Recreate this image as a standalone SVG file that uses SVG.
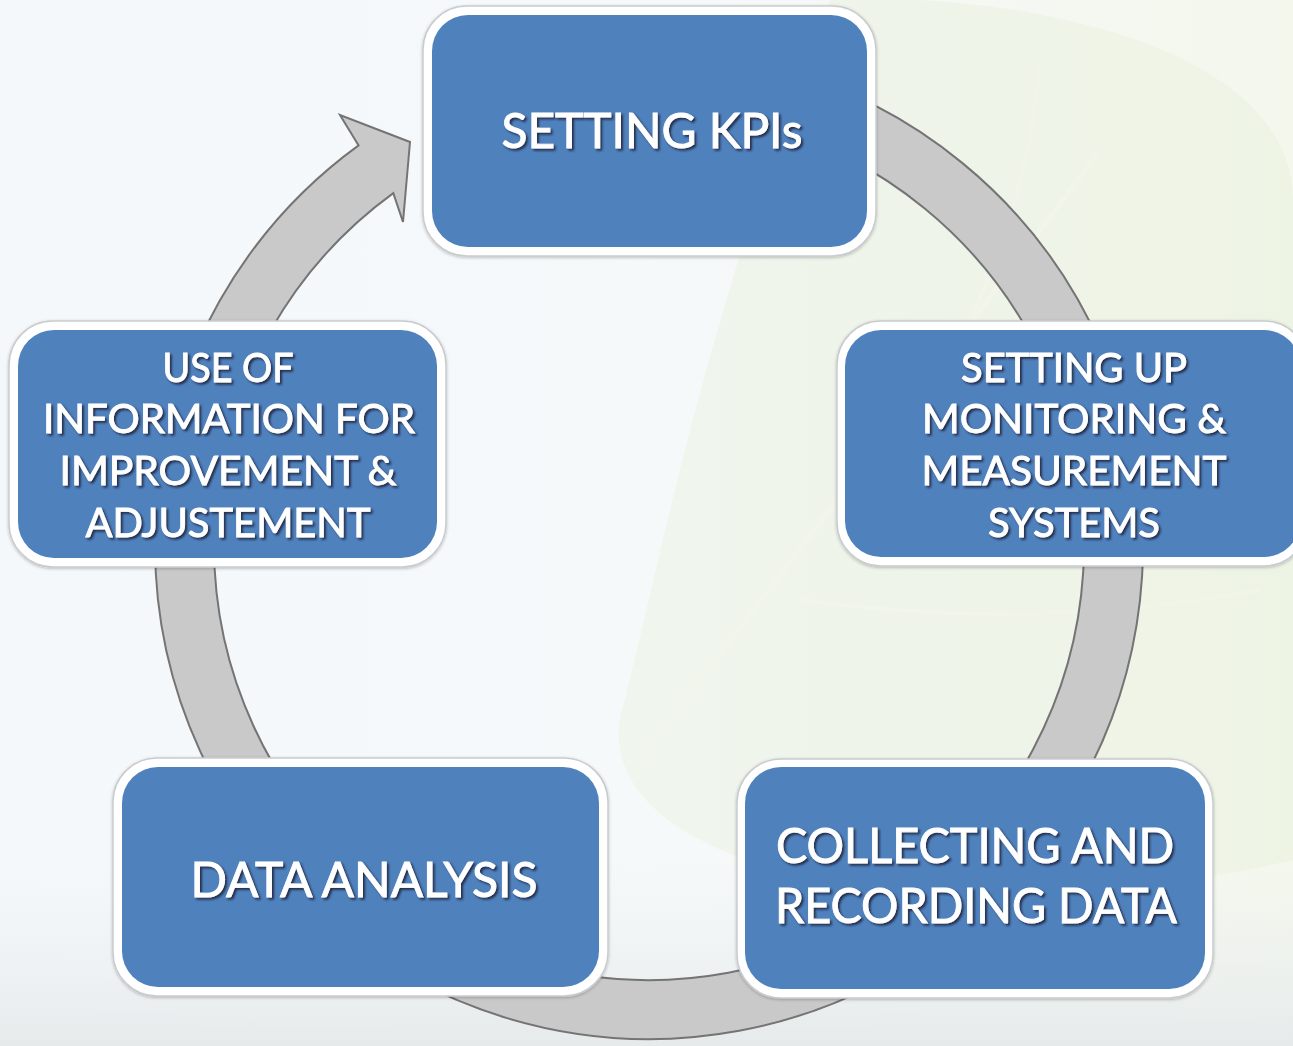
<svg xmlns="http://www.w3.org/2000/svg" width="1293" height="1046" viewBox="0 0 1293 1046">
  <defs>
    <linearGradient id="bg" x1="0" y1="0" x2="1" y2="0">
      <stop offset="0" stop-color="#f5f8fb"/>
      <stop offset="0.5" stop-color="#f6f9fa"/>
      <stop offset="1" stop-color="#f3f7ec"/>
    </linearGradient>
    <linearGradient id="floor" x1="0" y1="0" x2="0" y2="1">
      <stop offset="0" stop-color="#eef1f2" stop-opacity="0"/>
      <stop offset="1" stop-color="#e6eaeb" stop-opacity="1"/>
    </linearGradient>
    <filter id="ts" x="-10%" y="-30%" width="120%" height="160%">
      <feDropShadow dx="2" dy="2" stdDeviation="0.8" flood-color="#1b1b2e" flood-opacity="0.8"/>
    </filter>
    <filter id="bs" x="-5%" y="-5%" width="110%" height="115%">
      <feDropShadow dx="0" dy="1" stdDeviation="1.5" flood-color="#000" flood-opacity="0.25"/>
    </filter>
    <style>
      .frame { fill: #ffffff; stroke: #c9cccf; stroke-width: 1.5; filter: url(#bs); }
      .box { fill: #4f81bd; }
      .lbl { font-family: Lato, "Open Sans", "Liberation Sans", sans-serif; fill: #ffffff; stroke: #ffffff; stroke-width: 0.9; text-anchor: middle; filter: url(#ts); }
      .big { font-size: 49px; }
      .mid { font-size: 41px; }
      .ring { fill: #c9c9c9; stroke: #747474; stroke-width: 2; stroke-linejoin: miter; }
    </style>
  </defs>

  <!-- background -->
  <rect x="0" y="0" width="1293" height="1046" fill="url(#bg)"/>
  <path d="M 830,0 C 1000,-10 1293,40 1293,200 L 1293,860 C 1120,900 920,905 780,870 C 650,835 600,770 625,700 C 660,560 710,300 830,0 Z" fill="#e5edd8" opacity="0.35"/>
  <path d="M 640,760 C 760,600 900,420 1100,150" fill="none" stroke="#f3f6ec" stroke-width="6" opacity="0.5"/>
  <path d="M 880,470 C 980,460 1100,430 1250,360 M 800,600 C 950,620 1100,620 1260,590 M 960,340 C 1000,260 1030,180 1040,60" fill="none" stroke="#f3f6ec" stroke-width="4" opacity="0.45"/>
  <rect x="0" y="860" width="1293" height="186" fill="url(#floor)"/>

  <!-- connectors -->
  <g id="connectors">
    <path class="ring" d="M 776.9,67.8 A 494 494 0 1 1 358.6,145.4 L 340,115 L 410,142 L 403,222 L 393.3,193.1 A 435 435 0 1 0 761.6,124.8 Z"/>
  </g>

  <!-- nodes -->
  <g id="node-setting-kpis">
    <rect class="frame" x="423" y="6" width="453" height="250" rx="44"/>
    <rect class="box" x="432" y="15" width="435" height="232" rx="36"/>
    <text class="lbl big" x="652" y="148" textLength="301" lengthAdjust="spacingAndGlyphs">SETTING KPIs</text>
  </g>

  <g id="node-monitoring">
    <rect class="frame" x="837" y="321" width="471" height="245" rx="44"/>
    <rect class="box" x="845" y="330" width="455" height="227" rx="36"/>
    <text class="lbl mid" x="1074" y="382" textLength="226" lengthAdjust="spacingAndGlyphs">SETTING UP</text>
    <text class="lbl mid" x="1074" y="433" textLength="304" lengthAdjust="spacingAndGlyphs">MONITORING &amp;</text>
    <text class="lbl mid" x="1074" y="485" textLength="305" lengthAdjust="spacingAndGlyphs">MEASUREMENT</text>
    <text class="lbl mid" x="1074" y="537" textLength="172" lengthAdjust="spacingAndGlyphs">SYSTEMS</text>
  </g>

  <g id="node-collecting">
    <rect class="frame" x="737" y="759" width="476" height="239" rx="44"/>
    <rect class="box" x="745" y="767" width="460" height="222" rx="36"/>
    <text class="lbl big" x="975" y="863" textLength="398" lengthAdjust="spacingAndGlyphs">COLLECTING AND</text>
    <text class="lbl big" x="976" y="923" textLength="402" lengthAdjust="spacingAndGlyphs">RECORDING DATA</text>
  </g>

  <g id="node-data-analysis">
    <rect class="frame" x="113" y="758" width="495" height="238" rx="44"/>
    <rect class="box" x="122" y="767" width="477" height="220" rx="36"/>
    <text class="lbl big" x="364" y="897" textLength="347" lengthAdjust="spacingAndGlyphs">DATA ANALYSIS</text>
  </g>

  <g id="node-use-of-information">
    <rect class="frame" x="9" y="321" width="437" height="246" rx="44"/>
    <rect class="box" x="18" y="330" width="419" height="228" rx="36"/>
    <text class="lbl mid" x="228" y="382" textLength="131" lengthAdjust="spacingAndGlyphs">USE OF</text>
    <text class="lbl mid" x="229" y="433" textLength="372" lengthAdjust="spacingAndGlyphs">INFORMATION FOR</text>
    <text class="lbl mid" x="228" y="485" textLength="337" lengthAdjust="spacingAndGlyphs">IMPROVEMENT &amp;</text>
    <text class="lbl mid" x="228" y="537" textLength="285" lengthAdjust="spacingAndGlyphs">ADJUSTEMENT</text>
  </g>
</svg>
